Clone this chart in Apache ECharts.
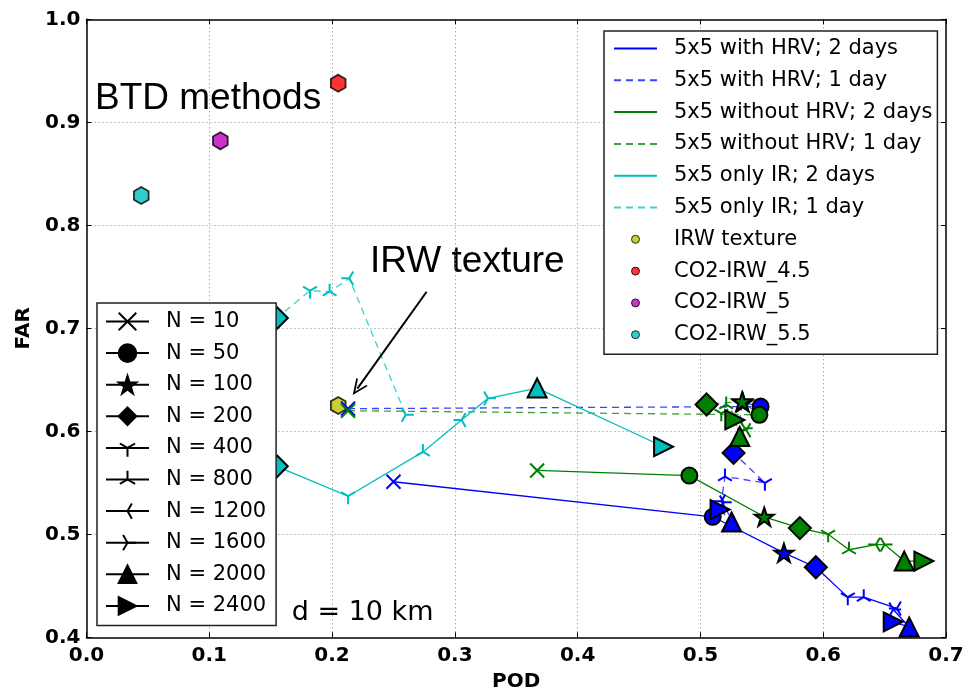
<!DOCTYPE html>
<html>
<head>
<meta charset="utf-8">
<script src="https://cdn.jsdelivr.net/npm/echarts@6/dist/echarts.min.js"></script>
<style>
html, body { margin: 0; padding: 0; background: #fff; }
#chart { width: 963px; height: 691px; }
</style>
</head>
<body>
<div id="chart"></div>
<script>
// N values, one marker per N (same order in every series)
var nValues = [10, 50, 100, 200, 400, 800, 1200, 1600, 2000, 2400];

// 5x5 with HRV; 2 days
var hrv2Pod = [0.250, 0.510, 0.568, 0.594, 0.620, 0.633, 0.660, 0.657, 0.670, 0.657];
var hrv2Far = [0.551, 0.517, 0.482, 0.468, 0.439, 0.439, 0.428, 0.427, 0.410, 0.415];
// 5x5 with HRV; 1 day
var hrv1Pod = [0.213, 0.549, 0.5345, 0.527, 0.5525, 0.520, 0.517, 0.519, 0.5254, 0.516];
var hrv1Far = [0.622, 0.624, 0.628, 0.579, 0.550, 0.556, 0.532, 0.531, 0.512, 0.524];
// 5x5 without HRV; 2 days
var noHrv2Pod = [0.367, 0.491, 0.552, 0.581, 0.604, 0.621, 0.643, 0.650, 0.666, 0.682];
var noHrv2Far = [0.562, 0.557, 0.517, 0.506, 0.500, 0.485, 0.490, 0.490, 0.474, 0.474];
// 5x5 without HRV; 1 day
var noHrv1Pod = [0.213, 0.548, 0.534, 0.505, 0.517, 0.521, 0.5375, 0.536, 0.532, 0.528];
var noHrv1Far = [0.620, 0.616, 0.629, 0.626, 0.6175, 0.626, 0.601, 0.603, 0.595, 0.611];
// 5x5 only IR; 2 days
var ir2Pod = [0.05, 0.09, 0.12, 0.155, 0.213, 0.274, 0.3055, 0.327, 0.367, 0.470];
var ir2Far = [0.55, 0.56, 0.565, 0.566, 0.537, 0.580, 0.611, 0.632, 0.642, 0.585];
// 5x5 only IR; 1 day (no N = 2000 / 2400 points)
var ir1Pod = [0.038, 0.050, 0.10, 0.155, 0.182, 0.198, 0.214, 0.260];
var ir1Far = [0.710, 0.705, 0.70, 0.710, 0.7365, 0.7355, 0.7485, 0.616];

// single-point methods
var irwPoint = [0.205, 0.625];
var co245Point = [0.205, 0.938];
var co25Point = [0.109, 0.882];
var co255Point = [0.0446, 0.829];

var podTicks = [0, 0.1, 0.2, 0.3, 0.4, 0.5, 0.6, 0.7];
var farTicks = [0.4, 0.5, 0.6, 0.7, 0.8, 0.9, 1.0];

// annotation arrow (data coords)
var arrowFrom = [0.277, 0.7355];
var arrowTo = [0.2206, 0.6415];

var SYM = {
    x: 'path://M0,0L10,10M10,0L0,10',
    star: 'path://M10,0L12.245,6.91L19.51,6.91L13.633,11.18L15.88,18.09L10,13.82L4.12,18.09L6.367,11.18L0.49,6.91L7.755,6.91Z',
    triDown: 'path://M0,0M20,20M10,10L10,20M10,10L1.34,5M10,10L18.66,5',
    triUp: 'path://M0,0M20,20M10,10L10,0M10,10L1.34,15M10,10L18.66,15',
    triLeft: 'path://M0,0M20,20M10,10L0,10M10,10L15,1.34M10,10L15,18.66',
    triRight: 'path://M0,0M20,20M10,10L20,10M10,10L5,1.34M10,10L5,18.66',
    triR: 'path://M0,0L20,10L0,20Z',
    hex: 'path://M10,0L18.66,5L18.66,15L10,20L1.34,15L1.34,5Z',
    arrow: 'path://M0,10L5,0L10,10L8.6,10L5,2.8L1.4,10Z'
};

var markers = [
    {s: SYM.x, size: 14, line: true},
    {s: 'circle', size: 16},
    {s: SYM.star, size: 19},
    {s: 'diamond', size: 22},
    {s: SYM.triDown, size: 16, line: true},
    {s: SYM.triUp, size: 16, line: true},
    {s: SYM.triLeft, size: 16, line: true},
    {s: SYM.triRight, size: 16, line: true},
    {s: 'triangle', size: 19},
    {s: SYM.triR, size: 19}
];

function markerStyle(m, color) {
    return m.line ? {color: color, borderColor: color, borderWidth: 2}
                  : {color: color, borderColor: '#000', borderWidth: 2};
}

function lineSeries(name, xs, ys, color, dashed) {
    return {
        name: name,
        type: 'line',
        symbolKeepAspect: true,
        showSymbol: true,
        lineStyle: {color: color, width: 1.3, type: dashed ? [7, 5] : 'solid', opacity: dashed ? 0.75 : 1},
        itemStyle: {color: color},
        emphasis: {disabled: true},
        data: xs.map(function (x, i) {
            var m = markers[i];
            return {value: [x, ys[i]], symbol: m.s, symbolSize: m.size, itemStyle: markerStyle(m, color)};
        })
    };
}

function pointSeries(name, p, color) {
    return {
        name: name,
        type: 'scatter',
        symbol: SYM.hex,
        symbolSize: 17,
        symbolKeepAspect: true,
        itemStyle: {color: color, borderColor: '#000', borderWidth: 1.8},
        emphasis: {disabled: true},
        data: [p]
    };
}

// black dummy series just for the "N = ..." legend
function nLegendSeries(i) {
    var m = markers[i];
    return {
        name: 'N = ' + nValues[i],
        type: 'line',
        data: [],
        symbol: m.s,
        symbolKeepAspect: true,
        lineStyle: {color: '#000', width: 1},
        itemStyle: markerStyle(m, '#000')
    };
}

var series = [
    lineSeries('5x5 with HRV; 2 days', hrv2Pod, hrv2Far, '#0000ff', false),
    lineSeries('5x5 with HRV; 1 day', hrv1Pod, hrv1Far, '#0000ff', true),
    lineSeries('5x5 without HRV; 2 days', noHrv2Pod, noHrv2Far, '#008000', false),
    lineSeries('5x5 without HRV; 1 day', noHrv1Pod, noHrv1Far, '#008000', true),
    lineSeries('5x5 only IR; 2 days', ir2Pod, ir2Far, '#00bfbf', false),
    lineSeries('5x5 only IR; 1 day', ir1Pod, ir1Far, '#00bfbf', true),
    pointSeries('IRW texture', irwPoint, '#bfbf00'),
    pointSeries('CO2-IRW_4.5', co245Point, '#ff0000'),
    pointSeries('CO2-IRW_5', co25Point, '#bf00bf'),
    pointSeries('CO2-IRW_5.5', co255Point, '#00bfbf')
];
series[6].markLine = {
    silent: true,
    animation: false,
    symbol: ['none', SYM.arrow],
    symbolSize: [14, 16],
    label: {show: false},
    lineStyle: {color: '#000', width: 2, type: 'solid'},
    emphasis: {disabled: true},
    data: [[{coord: arrowFrom}, {coord: arrowTo}]]
};
nValues.forEach(function (n, i) { series.push(nLegendSeries(i)); });

var lineNames = series.slice(0, 6).map(function (s) { return s.name; });
var dotNames = series.slice(6, 10).map(function (s) { return s.name; });

var tickFont = {fontSize: 20, fontWeight: 'bold', fontFamily: 'DejaVu Sans', color: '#000'};
var legendText = {fontSize: 21, fontFamily: 'DejaVu Sans', color: '#000', padding: [0, 0, 0, 12]};

function axisBase(min, max) {
    return {
        type: 'value', min: min, max: max, interval: 0.1,
        axisLine: {show: true, onZero: false, lineStyle: {color: '#000', width: 1.5}},
        axisTick: {show: true, inside: true, length: 5, lineStyle: {color: '#000', width: 1}},
        splitLine: {show: false}
    };
}

var xMain = axisBase(podTicks[0], podTicks[podTicks.length - 1]);
xMain.position = 'bottom';
xMain.name = 'POD';
xMain.nameLocation = 'middle';
xMain.nameGap = 34;
xMain.nameTextStyle = tickFont;
xMain.axisLabel = Object.assign({margin: 8, formatter: function (v) { return v.toFixed(1); }}, tickFont);
xMain.splitLine = {show: true, showMinLine: false, showMaxLine: false, lineStyle: {color: '#888', type: [1, 3], width: 1}};

var yMain = axisBase(farTicks[0], farTicks[farTicks.length - 1]);
yMain.position = 'left';
yMain.name = 'FAR';
yMain.nameLocation = 'middle';
yMain.nameGap = 42;
yMain.nameTextStyle = tickFont;
yMain.axisLabel = Object.assign({margin: 6, formatter: function (v) { return v.toFixed(1); }}, tickFont);
yMain.splitLine = {show: true, showMinLine: false, showMaxLine: false, lineStyle: {color: '#888', type: [1, 3], width: 1}};

var xTop = axisBase(podTicks[0], podTicks[podTicks.length - 1]);
xTop.position = 'top';
xTop.axisLabel = {show: false};
var yRight = axisBase(farTicks[0], farTicks[farTicks.length - 1]);
yRight.position = 'right';
yRight.axisLabel = {show: false};

var chart = echarts.init(document.getElementById('chart'));
chart.setOption({
    animation: false,
    backgroundColor: '#fff',
    grid: {left: 86.5, right: 17, top: 19.3, bottom: 53.7, outerBoundsMode: 'none'},
    xAxis: [xMain, xTop],
    yAxis: [yMain, yRight],
    legend: [{
        orient: 'vertical', left: 604, top: 31,
        padding: [7, 5, 9, 9], itemWidth: 43, itemHeight: 8, itemGap: 10.8,
        backgroundColor: '#fff', borderColor: '#222', borderWidth: 1.5, borderRadius: 0,
        selectedMode: false, textStyle: legendText,
        data: lineNames.map(function (n) { return {name: n, itemStyle: {opacity: 0}}; })
            .concat(dotNames.map(function (n) { return {name: n, icon: 'circle', itemStyle: {borderColor: '#000', borderWidth: 1}}; }))
    }, {
        orient: 'vertical', left: 97, top: 303,
        padding: [8, 10, 9, 8], itemWidth: 43, itemHeight: 22, itemGap: 10.6,
        backgroundColor: '#fff', borderColor: '#222', borderWidth: 1.5, borderRadius: 0,
        selectedMode: false, textStyle: legendText,
        data: nValues.map(function (n) { return 'N = ' + n; })
    }],
    graphic: [
        {type: 'text', x: 95, y: 99, style: {text: 'BTD methods', font: '37px "Liberation Sans"', fill: '#000', textAlign: 'left', textVerticalAlign: 'middle', align: 'left', verticalAlign: 'middle'}},
        {type: 'text', x: 370, y: 262, style: {text: 'IRW texture', font: '37px "Liberation Sans"', fill: '#000', textAlign: 'left', textVerticalAlign: 'middle', align: 'left', verticalAlign: 'middle'}},
        {type: 'text', x: 291.7, y: 613, style: {text: 'd = 10 km', font: '27px "DejaVu Sans"', fill: '#000', textAlign: 'left', textVerticalAlign: 'middle', align: 'left', verticalAlign: 'middle'}}
    ],
    series: series
});
</script>
</body>
</html>
